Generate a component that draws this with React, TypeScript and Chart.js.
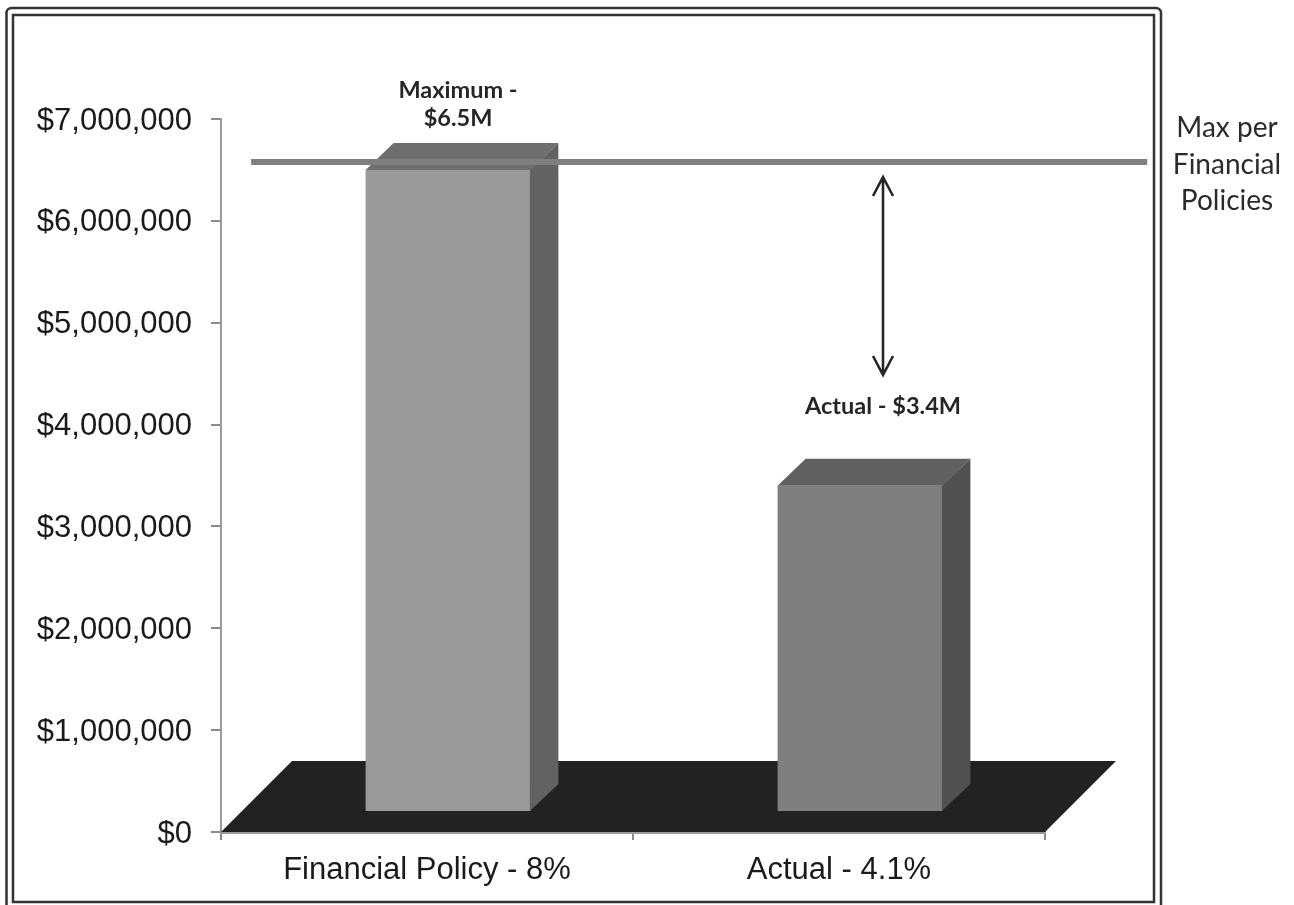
import React, { useEffect, useRef } from "react";
import { Chart, registerables } from "chart.js";

Chart.register(...registerables);

const categories = ["Financial Policy - 8%", "Actual - 4.1%"];
const fundBalance = [6500000, 3400000];
const policyMaximum = 6500000;
// Horizontal reach of the policy line, in category units along the axis.
const policyLineReach = [0.073, 2.248];
const maximumLabelLines = ["Maximum -", "$6.5M"];
const actualLabelLines = ["Actual - $3.4M"];
const policyCaptionLines = ["Max per", "Financial", "Policies"];

const FRONT_FACES = ["#999999", "#7f7f7f"];
const TOP_FACES = ["#6f6f6f", "#616161"];
const SIDE_FACES = ["#626262", "#515151"];
const FLOOR_COLOR = "#222222";
const FLOOR_LIFT = 206000; // bars stand slightly behind the front edge of the floor
const BAR_SHIFT = 21;
const BAR_DEPTH_X = 28;
const BAR_DEPTH_Y = 27;
const FLOOR_DEPTH_X = 71;
const FLOOR_DEPTH_Y = 71;
const LINE_LIFT = 8;
const CALLOUT_FONT = "Lato, 'Noto Sans', sans-serif";

function poly(ctx: CanvasRenderingContext2D, pts: number[][], fill: string) {
  ctx.beginPath();
  pts.forEach(([x, y], i) => (i ? ctx.lineTo(x, y) : ctx.moveTo(x, y)));
  ctx.closePath();
  ctx.fillStyle = fill;
  ctx.fill();
}

function centredLines(
  ctx: CanvasRenderingContext2D,
  lines: string[],
  x: number,
  y: number,
  step: number,
  font: string,
  color: string
) {
  ctx.font = font;
  ctx.fillStyle = color;
  ctx.textAlign = "center";
  ctx.textBaseline = "middle";
  lines.forEach((line, i) => ctx.fillText(line, x, y + i * step));
}

const depthPlugin = {
  id: "depthPlugin",
  beforeDraw(chart: any) {
    const { ctx } = chart;
    ctx.save();
    ctx.fillStyle = "#ffffff";
    ctx.fillRect(0, 0, chart.width, chart.height);
    ctx.strokeStyle = "#333333";
    ctx.lineWidth = 2.5;
    // Double border around the plot; the outer line runs off the bottom of the page.
    ctx.beginPath();
    ctx.roundRect(6.5, 8, 1154.5, 910, 5);
    ctx.stroke();
    ctx.beginPath();
    ctx.rect(13, 15, 1141, 887);
    ctx.stroke();
    ctx.restore();
  },
  beforeDatasetsDraw(chart: any) {
    const { ctx, scales } = chart;
    const y0 = scales.y.getPixelForValue(0);
    const l = scales.x.left;
    const r = scales.x.right;
    poly(
      ctx,
      [
        [l, y0],
        [r, y0],
        [r + FLOOR_DEPTH_X, y0 - FLOOR_DEPTH_Y],
        [l + FLOOR_DEPTH_X, y0 - FLOOR_DEPTH_Y],
      ],
      FLOOR_COLOR
    );
  },
  beforeDatasetDraw(chart: any, args: any) {
    const { ctx } = chart;
    ctx.save();
    if (args.index === 0) ctx.translate(BAR_SHIFT, 0);
    else ctx.translate(0, -LINE_LIFT);
  },
  afterDatasetDraw(chart: any, args: any) {
    const { ctx } = chart;
    if (args.index === 0) {
      args.meta.data.forEach((bar: any, i: number) => {
        const left = bar.x - bar.width / 2;
        const right = bar.x + bar.width / 2;
        const top = bar.y;
        const bottom = bar.base;
        poly(
          ctx,
          [
            [left, top],
            [right, top],
            [right + BAR_DEPTH_X, top - BAR_DEPTH_Y],
            [left + BAR_DEPTH_X, top - BAR_DEPTH_Y],
          ],
          TOP_FACES[i]
        );
        // The side face overlaps the front by a pixel so the floor cannot show through the seam.
        poly(
          ctx,
          [
            [right - 0.5, top],
            [right + BAR_DEPTH_X, top - BAR_DEPTH_Y],
            [right + BAR_DEPTH_X, bottom - BAR_DEPTH_Y],
            [right - 0.5, bottom],
          ],
          SIDE_FACES[i]
        );
      });
    }
    ctx.restore();
  },
  afterDraw(chart: any) {
    const { ctx } = chart;
    ctx.save();
    const bold = `bold 23.5px ${CALLOUT_FONT}`;
    centredLines(ctx, maximumLabelLines, 458, 90, 28, bold, "#262626");
    centredLines(ctx, actualLabelLines, 883, 406, 28, bold, "#262626");
    centredLines(ctx, policyCaptionLines, 1227, 128, 36.5, `28px ${CALLOUT_FONT}`, "#2b2b2b");

    // Double-headed arrow showing the gap between the maximum and the actual amount.
    const ax = 883;
    const top = 177;
    const bottom = 375;
    ctx.strokeStyle = "#262626";
    ctx.lineWidth = 2.6;
    ctx.beginPath();
    ctx.moveTo(ax, top);
    ctx.lineTo(ax, bottom);
    ctx.moveTo(ax - 10, top + 19);
    ctx.lineTo(ax, top);
    ctx.lineTo(ax + 10, top + 19);
    ctx.moveTo(ax - 10, bottom - 19);
    ctx.lineTo(ax, bottom);
    ctx.lineTo(ax + 10, bottom - 19);
    ctx.stroke();
    ctx.restore();
  },
};

export default function App() {
  const ref = useRef<HTMLCanvasElement | null>(null);

  useEffect(() => {
    if (!ref.current) return;
    const chart = new Chart(ref.current, {
      type: "bar",
      data: {
        labels: categories,
        datasets: [
          {
            type: "bar",
            label: "Fund balance",
            data: fundBalance,
            base: FLOOR_LIFT,
            backgroundColor: FRONT_FACES,
            borderWidth: 0,
            barPercentage: 1,
            categoryPercentage: 0.4,
            grouped: false,
            order: 2,
            clip: false,
          },
          {
            type: "line",
            label: "Max per Financial Policies",
            data: policyLineReach.map((x) => ({ x, y: policyMaximum })),
            xAxisID: "xLine",
            borderColor: "#7f7f7f",
            borderWidth: 6,
            pointRadius: 0,
            order: 1,
            clip: false,
          },
        ] as any,
      },
      options: {
        animation: false,
        responsive: false,
        layout: { padding: { left: 0, right: 249, top: 119, bottom: 0 } },
        plugins: { legend: { display: false }, tooltip: { enabled: false } },
        scales: {
          x: {
            type: "category",
            offset: true,
            grid: { drawOnChartArea: false, tickLength: 8, color: "#8a8a8a", lineWidth: 2, offset: true },
            border: { color: "#9a9a9a", width: 3 },
            ticks: {
              color: "#1a1a1a",
              font: { family: "'Liberation Sans', Arial, sans-serif", size: 31 },
              padding: 12,
              maxRotation: 0,
            },
            afterFit(scale: any) {
              scale.height = 73;
            },
          },
          xLine: { type: "linear", display: false, min: 0, max: 2, offset: false },
          y: {
            min: 0,
            max: 7000000,
            grid: { drawOnChartArea: false, tickLength: 10, color: "#8a8a8a", lineWidth: 2 },
            border: { color: "#9a9a9a", width: 2 },
            ticks: {
              stepSize: 1000000,
              color: "#1a1a1a",
              font: { family: "'Liberation Sans', Arial, sans-serif", size: 31 },
              padding: 19,
              labelOffset: 2,
              callback: (v: any) => "$" + Number(v).toLocaleString("en-US"),
            },
            afterFit(scale: any) {
              scale.width = 221;
            },
          },
        },
      } as any,
      plugins: [depthPlugin],
    });
    return () => chart.destroy();
  }, []);

  return (
    <div style={{ position: "absolute", left: 0, top: 0, width: 1294, height: 905, overflow: "hidden", background: "#fff" }}>
      <canvas ref={ref} width={1294} height={905} style={{ display: "block" }} />
    </div>
  );
}
